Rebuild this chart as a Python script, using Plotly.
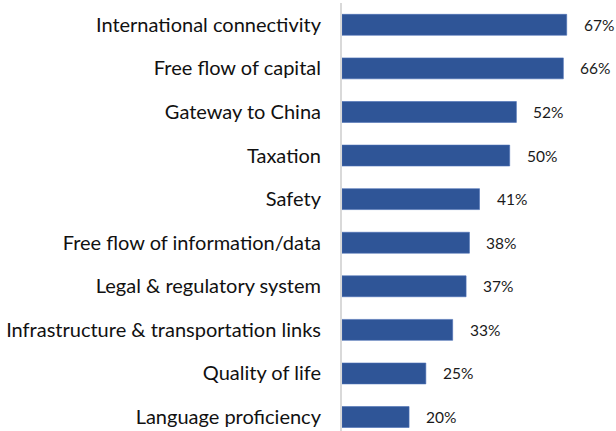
import plotly.graph_objects as go

categories = [
    "International connectivity",
    "Free flow of capital",
    "Gateway to China",
    "Taxation",
    "Safety",
    "Free flow of information/data",
    "Legal & regulatory system",
    "Infrastructure & transportation links",
    "Quality of life",
    "Language proficiency",
]
values = [67, 66, 52, 50, 41, 38, 37, 33, 25, 20]
value_labels = [f"{v}%" for v in values]

fig = go.Figure(
    go.Bar(
        x=values,
        y=categories,
        orientation="h",
        width=0.48,
        marker=dict(color="#2F5597", line=dict(color="#4A6FB5", width=0.6)),
        hoverinfo="skip",
    )
)

for cat, v, lab in zip(categories, values, value_labels):
    fig.add_annotation(
        x=v, y=cat, text=lab, showarrow=False,
        xanchor="left", yanchor="middle", xshift=15,
        font=dict(family="Lato", size=15.5, color="#1a1a1a"),
    )

fig.update_layout(
    width=616, height=431,
    margin=dict(l=342, r=0, t=3, b=0),
    paper_bgcolor="white", plot_bgcolor="white",
    showlegend=False,
    xaxis=dict(range=[0, 81.7], visible=False, fixedrange=True),
    yaxis=dict(
        type="category",
        categoryorder="array", categoryarray=categories,
        range=[9.32, -0.5],
        showline=True, linecolor="#D9D9D9", linewidth=2,
        ticks="", showgrid=False, zeroline=False,
        ticklabelstandoff=15,
        tickfont=dict(family="Lato", size=20, color="#111111"),
    ),
)

fig.write_html("out.html")
